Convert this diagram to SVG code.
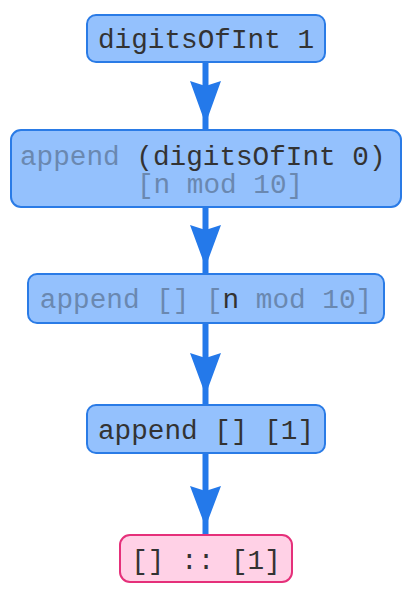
<svg xmlns="http://www.w3.org/2000/svg" width="414" height="594" viewBox="0 0 414 594">
<style>
.n rect{fill:#94C1FD;stroke:#2A7BE6;stroke-width:2}
.r rect{fill:#FFD1E6;stroke:#E5307A;stroke-width:2}
text{font-family:"Liberation Mono","DejaVu Sans Mono",monospace;font-size:27.7px;fill:#333333}
.g{fill:#6A88B0}
.e line{stroke:#2479EA;stroke-width:6}
.e path{fill:#2479EA}
</style>
<rect width="414" height="594" fill="#ffffff"/>
<g id="connectors" class="e">
<line x1="205.5" y1="62" x2="205.5" y2="130"/>
<path d="M190,81 L205.5,86 L221,81 L205.5,124 Z"/>
<line x1="205.5" y1="207" x2="205.5" y2="275"/>
<path d="M190,225 L205.5,230 L221,225 L205.5,267 Z"/>
<line x1="205.5" y1="323" x2="205.5" y2="405"/>
<path d="M190,353 L205.5,358 L221,353 L205.5,395 Z"/>
<line x1="205.5" y1="453" x2="205.5" y2="535"/>
<path d="M190,486 L205.5,491 L221,486 L205.5,527 Z"/>
</g>
<g id="node1" class="n">
<rect x="87" y="15" width="238" height="47" rx="9"/>
<text x="206" y="48" text-anchor="middle">digitsOfInt 1</text>
</g>
<g id="node2" class="n">
<rect x="11" y="130" width="390" height="77" rx="10"/>
<text x="20" y="165"><tspan class="g">append </tspan>(digitsOfInt 0)</text>
<text x="137" y="193" class="g">[n mod 10]</text>
</g>
<g id="node3" class="n">
<rect x="28" y="274" width="356" height="49" rx="9"/>
<text x="206" y="308" text-anchor="middle"><tspan class="g">append [] [</tspan>n<tspan class="g"> mod 10]</tspan></text>
</g>
<g id="node4" class="n">
<rect x="87" y="405" width="238" height="48" rx="9"/>
<text x="206" y="439" text-anchor="middle">append [] [1]</text>
</g>
<g id="node5" class="r">
<rect x="120" y="535" width="172" height="47" rx="10"/>
<text x="206" y="569" text-anchor="middle">[] :: [1]</text>
</g>
</svg>
